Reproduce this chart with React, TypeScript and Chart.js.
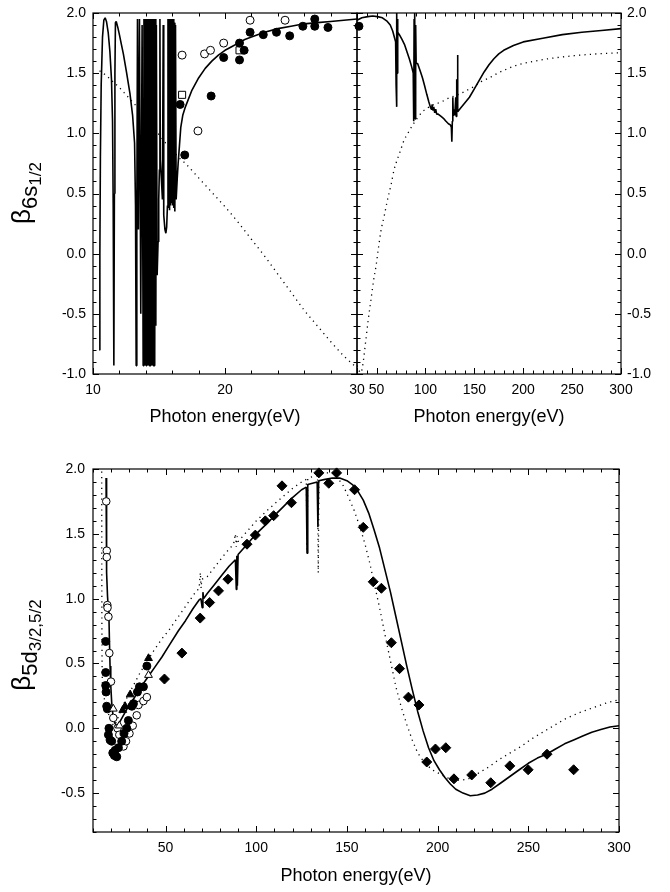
import { useEffect, useRef } from "react";
import { Chart, registerables } from "chart.js";

Chart.register(...registerables);

type P = [number, number];

// ---------- Top-left panel (10-30 eV), beta 6s1/2 ----------
const tlSolid: P[] = [
  [10.48, -0.8], [10.52, 0.0], [10.56, 0.8], [10.62, 1.4], [10.72, 1.8], [10.82, 1.94], [10.92, 1.96],
  [11.02, 1.93], [11.15, 1.84], [11.28, 1.68], [11.4, 1.45], [11.48, 1.1], [11.53, 0.4], [11.58, -0.93],
  [11.62, 0.5], [11.66, 1.5], [11.7, 1.92], [11.76, 1.93], [11.88, 1.88], [12.0, 1.82], [12.15, 1.74],
  [12.3, 1.66], [12.55, 1.5], [12.8, 1.33], [13.0, 1.15], [13.15, 0.92], [13.22, 0.4], [13.27, -0.93],
  [13.32, 0.3], [13.37, 1.95], [13.44, 0.2], [13.52, 1.95], [13.62, -0.5], [13.72, 1.9],
  [13.8, -0.93], [13.86, 1.95], [13.9, -0.93], [13.94, 1.95], [13.97, -0.93], [14.0, 1.95],
  [14.03, -0.93], [14.06, 1.95], [14.09, -0.93], [14.12, 1.95], [14.15, -0.93], [14.18, 1.95], [14.21, -0.93],
  [14.24, 1.95], [14.27, -0.93], [14.3, 1.95], [14.33, -0.93], [14.36, 1.95], [14.39, -0.93], [14.42, 1.95],
  [14.45, -0.93], [14.48, 1.95], [14.51, -0.93], [14.54, 1.95], [14.57, -0.93], [14.6, 1.95], [14.63, -0.93],
  [14.66, 1.95], [14.69, -0.9], [14.72, 1.95], [14.76, -0.6], [14.8, 1.9],
  [14.86, -0.18], [14.93, 0.1], [14.98, 0.45], [15.03, 0.7], [15.07, 1.95], [15.1, 0.78], [15.18, 0.62],
  [15.26, 0.45], [15.32, 1.9], [15.36, 0.32], [15.45, 0.2], [15.52, 0.17], [15.58, 0.22], [15.64, 0.4],
  [15.68, 1.95], [15.72, 0.38], [15.76, 1.95], [15.8, 0.36], [15.84, 1.95], [15.88, 0.4], [15.92, 1.95],
  [15.96, 0.42], [16.0, 1.95], [16.04, 0.4], [16.08, 1.95], [16.12, 0.38], [16.16, 1.92], [16.2, 0.35],
  [16.25, 1.9], [16.3, 0.45], [16.38, 0.62], [16.45, 0.75], [16.55, 0.9], [16.65, 1.05], [16.8, 1.15],
  [17.0, 1.22], [17.5, 1.36], [18.0, 1.46], [18.5, 1.54], [19.0, 1.6], [19.5, 1.65], [20.0, 1.69],
  [20.5, 1.72], [21.0, 1.75], [21.5, 1.78], [22.0, 1.8], [23.0, 1.84], [24.0, 1.87], [25.0, 1.89],
  [26.0, 1.91], [27.0, 1.92], [28.0, 1.93], [29.0, 1.94], [30.0, 1.95],
];
const tlDotted: P[] = [
  [10.5, 1.52], [11, 1.48], [11.5, 1.43], [12, 1.38], [12.5, 1.32], [13, 1.26], [13.5, 1.2], [14, 1.13],
  [14.5, 1.06], [15, 0.99], [15.5, 0.92], [16, 0.86], [16.5, 0.8], [17, 0.75], [18, 0.63], [19, 0.51],
  [20, 0.39], [21, 0.26], [22, 0.12], [23, -0.02], [24, -0.17], [25, -0.32], [26, -0.47], [27, -0.6],
  [28, -0.73], [29, -0.85], [30, -0.95],
];
const tlFilledCircles: P[] = [
  [16.6, 1.24], [16.95, 0.82], [18.95, 1.31], [19.9, 1.63], [21.1, 1.75], [21.1, 1.61], [21.45, 1.69],
  [21.9, 1.84], [22.9, 1.82], [23.9, 1.84], [24.9, 1.81], [25.9, 1.89], [26.8, 1.95], [26.8, 1.89],
  [27.8, 1.88], [30.15, 1.89],
];
const tlOpenCircles: P[] = [
  [16.75, 1.65], [17.95, 1.02], [18.45, 1.66], [18.9, 1.69], [19.9, 1.75], [21.9, 1.94], [24.55, 1.94],
];
const tlOpenSquares: P[] = [[16.75, 1.32], [21.1, 1.69]];

// ---------- Top-right panel (30-300 eV) ----------
const trSolid: P[] = [
  [30, 1.94], [35, 1.96], [41, 1.97], [46, 1.975], [51, 1.97], [56, 1.96], [61, 1.93], [64, 1.9],
  [66.5, 1.85], [68.5, 1.79], [69.5, 1.76], [70, 1.4], [70.3, 1.22], [70.6, 1.9], [70.9, 2.0], [71.2, 1.5],
  [71.5, 1.95], [71.8, 1.84], [73.3, 1.82], [76, 1.78], [78.5, 1.74], [81, 1.68], [83.5, 1.62], [86, 1.55],
  [87.5, 1.5], [88, 1.1], [88.4, 1.95], [88.8, 1.15], [89.2, 2.0], [89.6, 1.12], [90, 1.9], [90.5, 1.58],
  [92, 1.58], [95, 1.51], [97, 1.46], [99, 1.4], [101.5, 1.32], [103.5, 1.26], [105, 1.22], [106, 1.2],
  [106.7, 1.24], [107.5, 1.19], [108.5, 1.22], [109.5, 1.17], [110.5, 1.2], [111.5, 1.16], [113, 1.16],
  [116, 1.14], [119, 1.12], [121, 1.1], [123.5, 1.08], [125.5, 1.07], [126.5, 1.05], [127, 0.93],
  [127.5, 1.1], [128, 1.3], [128.5, 1.15], [129, 1.2], [130, 1.15], [131, 1.3], [131.5, 1.14], [132, 1.45],
  [132.4, 1.2], [132.8, 1.65], [133.2, 1.18], [134, 1.19], [136, 1.21], [140, 1.25], [145, 1.3],
  [150, 1.37], [155, 1.44], [160, 1.51], [165, 1.57], [170, 1.62], [175, 1.66], [180, 1.69], [190, 1.73],
  [200, 1.76], [220, 1.79], [240, 1.82], [260, 1.84], [280, 1.855], [300, 1.87],
];
const trDotted: P[] = [
  [30, -0.93], [32, -0.97], [34, -0.99], [36, -0.92], [39, -0.72], [41.5, -0.55], [44, -0.4], [47, -0.22],
  [49.5, -0.1], [52, 0.05], [54.5, 0.19], [58, 0.32], [61, 0.44], [65, 0.58], [68, 0.7], [72, 0.8],
  [75, 0.87], [78, 0.94], [82, 1.0], [87, 1.07], [92, 1.13], [97, 1.18], [102, 1.21], [109, 1.24],
  [116, 1.26], [123, 1.29], [129.5, 1.31], [136, 1.33], [143, 1.36], [150, 1.39], [157, 1.43], [165, 1.46],
  [174, 1.5], [182, 1.53], [191, 1.56], [200, 1.58], [218, 1.61], [235, 1.63], [252, 1.645], [275, 1.66],
  [300, 1.67],
];

// ---------- Bottom panel (10-300 eV), beta 5d3/2,5/2 ----------
const bSolid: P[] = [
  [17.2, 1.93], [17.3, 1.65], [17.5, 1.4], [17.7, 1.2], [18.0, 1.02], [18.4, 0.93], [18.8, 0.85],
  [19.1, 0.65], [19.4, 0.48], [19.8, 0.33], [20.3, 0.2], [21, 0.1], [22, 0.04], [23, 0.02], [24, 0.03],
  [26, 0.08], [28, 0.13], [30, 0.18], [33, 0.24], [36, 0.31], [40, 0.39], [44, 0.47], [48, 0.55],
  [52, 0.64], [57, 0.75], [61, 0.83], [65, 0.92], [68.5, 0.99], [69.5, 1.0], [70.2, 0.93], [70.6, 1.05],
  [71, 1.0], [73, 1.04], [77, 1.11], [81, 1.18], [85, 1.25], [88.5, 1.3], [89, 1.07], [89.3, 1.33],
  [89.6, 1.1], [90, 1.34], [95, 1.42], [100, 1.5], [106, 1.58], [110, 1.64], [115, 1.71], [120, 1.78],
  [125, 1.84], [127.6, 1.86], [128, 1.35], [128.4, 1.88], [131, 1.89], [133.6, 1.9], [134, 1.55],
  [134.4, 1.91], [138, 1.92], [142, 1.93], [146, 1.93], [150, 1.91], [153, 1.88], [156, 1.83], [159, 1.76],
  [162, 1.66], [165, 1.53], [168, 1.39], [171, 1.22], [174, 1.05], [177, 0.86], [180, 0.67], [183, 0.48],
  [186, 0.3], [189, 0.13], [192, -0.02], [195, -0.15], [198, -0.25], [201, -0.32], [204, -0.38],
  [207, -0.43], [210, -0.47], [214, -0.5], [218, -0.52], [222, -0.515], [226, -0.5], [230, -0.47],
  [235, -0.42], [240, -0.37], [245, -0.32], [250, -0.27], [255, -0.23], [260, -0.2], [265, -0.16],
  [270, -0.12], [275, -0.09], [280, -0.06], [285, -0.03], [290, -0.01], [295, 0.01], [300, 0.02],
];
const bDotted: P[] = [
  [14.8, 1.98], [14.85, 1.3], [14.9, 0.8], [15.0, 0.5], [15.2, 0.32], [16, 0.24], [17.5, 0.16], [19, 0.09],
  [20.5, 0.04], [21.5, 0.02], [22.5, 0.04], [24, 0.09], [27, 0.19], [30, 0.27], [33, 0.35], [36, 0.43],
  [40, 0.52], [44, 0.61], [48, 0.69], [52, 0.76], [57, 0.86], [62, 0.96], [66, 1.04], [68.5, 1.08],
  [69.2, 1.2], [69.6, 1.08], [70, 1.15], [73, 1.17], [78, 1.26], [83, 1.35], [87.5, 1.42], [88.5, 1.5],
  [89, 1.4], [89.5, 1.48], [90, 1.44], [95, 1.52], [100, 1.6], [106, 1.68], [110, 1.73], [115, 1.79],
  [120, 1.85], [125, 1.9], [127.6, 1.92], [128, 1.38], [128.4, 1.93], [131, 1.94], [133.8, 1.95],
  [134.2, 1.2], [134.6, 1.96], [138, 1.97], [142, 1.97], [145, 1.93], [148, 1.87], [151, 1.78],
  [154, 1.68], [157, 1.56], [160, 1.42], [162.5, 1.28], [165, 1.12], [168, 0.93], [171, 0.72], [174, 0.52],
  [177, 0.32], [180, 0.16], [183, 0.03], [186, -0.09], [189, -0.19], [193, -0.27], [197, -0.32],
  [201, -0.35], [205, -0.38], [209, -0.4], [213, -0.4], [217, -0.39], [222, -0.35], [228, -0.3],
  [234, -0.24], [240, -0.19], [246, -0.14], [252, -0.08], [258, -0.03], [264, 0.02], [270, 0.07],
  [278, 0.12], [286, 0.16], [294, 0.2], [300, 0.22],
];
const bDiamonds: P[] = [
  [49.4, 0.38], [59, 0.58], [69.1, 0.85], [74.3, 0.97], [79.2, 1.06], [84.4, 1.15], [94.9, 1.42],
  [99.5, 1.49], [105, 1.6], [109.6, 1.64], [114.2, 1.87], [119.4, 1.74], [134.5, 1.97], [140, 1.89],
  [144.3, 1.97], [154.2, 1.84], [159, 1.55], [164.5, 1.13], [169, 1.08], [174.5, 0.66], [179, 0.46],
  [183.9, 0.24], [189.7, 0.18], [194, -0.26], [198.8, -0.16], [204.5, -0.15], [209, -0.39], [218.8, -0.36],
  [229.3, -0.42], [239.8, -0.29], [249.9, -0.32], [260.3, -0.2], [275, -0.32],
];
const bFilledCircles: P[] = [
  [17.0, 0.67], [17.0, 0.43], [17.0, 0.33], [17.2, 0.28], [17.55, 0.17], [17.9, 0.15], [18.8, 0.0],
  [18.5, -0.05], [19.4, -0.09], [20.3, -0.1], [20.9, -0.19], [21.8, -0.21], [23.1, -0.22], [22.2, -0.17],
  [24.0, -0.15], [25.8, -0.1], [27.1, -0.04], [28.6, 0.0], [29.5, 0.06], [31.4, 0.17], [32.3, 0.19],
  [34.5, 0.28], [35.6, 0.32], [37.8, 0.32], [39.7, 0.48],
];
const bOpenCircles: P[] = [
  [17.3, 1.75], [17.6, 1.37], [17.6, 1.32], [17.9, 0.95], [18.0, 0.93], [18.5, 0.86], [19.0, 0.58],
  [19.9, 0.36], [21.2, 0.08], [23.5, 0.0], [24.5, -0.05], [26.8, -0.14], [28.2, -0.1], [30.1, -0.04],
  [31.9, 0.02], [34.1, 0.1], [35.1, 0.18], [37.8, 0.21], [39.7, 0.24],
];
const bFilledTriangles: P[] = [[26.4, 0.14], [27.7, 0.17], [30.5, 0.26], [40.6, 0.54]];
const bOpenTriangles: P[] = [[21.2, 0.15], [24.5, 0.02], [40.6, 0.41]];

// ---------- Tick labels ----------
const tlXLabels = [10, 20, 30];
const trXLabels = [50, 100, 150, 200, 250, 300];
const bXLabels = [50, 100, 150, 200, 250, 300];
const topYLabels = [-1, -0.5, 0, 0.5, 1, 1.5, 2];
const bYLabels = [-0.5, 0, 0.5, 1, 1.5, 2];
const xTitle = "Photon energy(eV)";

const FONT = "'Liberation Sans', Arial, Helvetica, sans-serif";

const pts = (a: P[]) => a.map(([x, y]) => ({ x, y }));

function lineDs(data: P[], dotted: boolean, smooth: boolean) {
  return {
    data: pts(data),
    showLine: true,
    borderColor: "#000",
    borderWidth: dotted ? 1.3 : 1.6,
    borderDash: dotted ? [1.2, 4.2] : [],
    borderJoinStyle: "bevel",
    pointRadius: 0,
    pointHoverRadius: 0,
    tension: 0,
    cubicInterpolationMode: smooth ? "monotone" : "default",
    fill: false,
  };
}

function markDs(data: P[], style: string, filled: boolean, radius: number) {
  return {
    data: pts(data),
    showLine: false,
    pointStyle: style,
    pointRadius: radius,
    pointHoverRadius: radius,
    pointBackgroundColor: filled ? "#000" : "#fff",
    pointBorderColor: "#000",
    pointBorderWidth: 1,
    clip: false,
  };
}

function frameTicks(xStep: number, xMajor: number, yStep: number, yMajor: number) {
  return {
    id: "frameTicks",
    afterDatasetsDraw(chart: any) {
      const { ctx, chartArea: a, scales } = chart;
      const xs = scales.x;
      const ys = scales.y;
      ctx.save();
      ctx.strokeStyle = "#000";
      ctx.lineWidth = 1;
      ctx.beginPath();
      const n = Math.round((xs.max - xs.min) / xStep);
      for (let i = 0; i <= n; i++) {
        const v = xs.min + i * xStep;
        const maj = Math.abs(v / xMajor - Math.round(v / xMajor)) < 1e-6;
        const len = maj ? 6 : 3.5;
        const px = Math.round(xs.getPixelForValue(v)) + 0.5;
        ctx.moveTo(px, a.bottom);
        ctx.lineTo(px, a.bottom - len);
        ctx.moveTo(px, a.top);
        ctx.lineTo(px, a.top + len);
      }
      const m = Math.round((ys.max - ys.min) / yStep);
      for (let i = 0; i <= m; i++) {
        const v = Math.round((ys.min + i * yStep) * 1000) / 1000;
        const maj = Math.abs(v / yMajor - Math.round(v / yMajor)) < 1e-6;
        const len = maj ? 6 : 3.5;
        const py = Math.round(ys.getPixelForValue(v)) + 0.5;
        ctx.moveTo(a.left, py);
        ctx.lineTo(a.left + len, py);
        ctx.moveTo(a.right, py);
        ctx.lineTo(a.right - len, py);
      }
      ctx.stroke();
      ctx.lineWidth = 1.2;
      ctx.strokeRect(a.left, a.top, a.right - a.left, a.bottom - a.top);
      ctx.restore();
    },
  };
}

function betaTitle(cx: number, cy: number, sub: string, subsub: string) {
  return {
    id: "betaTitle",
    afterDraw(chart: any) {
      const ctx = chart.ctx;
      ctx.save();
      ctx.fillStyle = "#000";
      ctx.textBaseline = "alphabetic";
      ctx.textAlign = "left";
      const f1 = `26px ${FONT}`;
      const f2 = `22px ${FONT}`;
      const f3 = `17px ${FONT}`;
      ctx.font = f1;
      const w1 = ctx.measureText("β").width;
      ctx.font = f2;
      const w2 = ctx.measureText(sub).width;
      ctx.font = f3;
      const w3 = ctx.measureText(subsub).width;
      const total = w1 + w2 + w3;
      ctx.translate(cx, cy);
      ctx.rotate(-Math.PI / 2);
      let x0 = -total / 2;
      ctx.font = f1;
      ctx.fillText("β", x0, 0);
      x0 += w1;
      ctx.font = f2;
      ctx.fillText(sub, x0, 7);
      x0 += w2;
      ctx.font = f3;
      ctx.fillText(subsub, x0, 11);
      ctx.restore();
    },
  };
}

function xScale(min: number, max: number, labels: number[], h: number) {
  return {
    type: "linear",
    position: "bottom",
    min,
    max,
    grid: { display: false, drawTicks: false },
    border: { display: false },
    afterBuildTicks: (s: any) => {
      s.ticks = labels.map((v) => ({ value: v }));
    },
    afterFit: (s: any) => {
      s.height = h;
      s.paddingLeft = 0;
      s.paddingRight = 0;
      s.paddingTop = 0;
      s.paddingBottom = 0;
    },
    ticks: {
      autoSkip: false,
      maxRotation: 0,
      minRotation: 0,
      padding: 8,
      color: "#000",
      font: { family: FONT, size: 14 },
      callback: (v: any) => String(v),
    },
    title: {
      display: true,
      text: xTitle,
      color: "#000",
      font: { family: FONT, size: 18 },
      padding: { top: 0, bottom: 0 },
    },
  };
}

function yScale(min: number, max: number, labels: number[], pos: string, w: number, pad: number) {
  return {
    type: "linear",
    position: pos,
    min,
    max,
    grid: { display: false, drawTicks: false },
    border: { display: false },
    afterBuildTicks: (s: any) => {
      s.ticks = labels.map((v) => ({ value: v }));
    },
    afterFit: (s: any) => {
      s.width = w;
      s.paddingLeft = 0;
      s.paddingRight = 0;
      s.paddingTop = 0;
      s.paddingBottom = 0;
    },
    ticks: {
      autoSkip: false,
      padding: pad,
      color: "#000",
      font: { family: FONT, size: 14 },
      callback: (v: any) => Number(v).toFixed(1),
    },
  };
}

function baseOptions(padding: any, x: any, y: any) {
  return {
    responsive: false,
    maintainAspectRatio: false,
    animation: false,
    events: [],
    layout: { padding, autoPadding: false },
    plugins: { legend: { display: false }, tooltip: { enabled: false }, title: { display: false } },
    scales: { x, y },
  };
}

function cfgTopLeft(): any {
  return {
    type: "scatter",
    data: {
      datasets: [
        markDs(tlFilledCircles, "circle", true, 4),
        markDs(tlOpenCircles, "circle", false, 4),
        markDs(tlOpenSquares, "rect", false, 5),
        lineDs(tlSolid, false, false),
        lineDs(tlDotted, true, true),
      ],
    },
    options: baseOptions(
      { left: 53, right: 313, top: 13, bottom: 892 - 374 - 54.2 },
      xScale(10, 30, tlXLabels, 54.2),
      yScale(-1, 2, topYLabels, "left", 40, 7)
    ),
    plugins: [frameTicks(2, 10, 0.1, 0.5), betaTitle(30, 193, "6s", "1/2")],
  };
}

function cfgTopRight(): any {
  return {
    type: "scatter",
    data: {
      datasets: [lineDs(trSolid, false, false), lineDs(trDotted, true, true)],
    },
    options: baseOptions(
      { left: 357, right: 0, top: 13, bottom: 892 - 374 - 54.2 },
      xScale(30, 300, trXLabels, 54.2),
      yScale(-1, 2, topYLabels, "right", 49, 6)
    ),
    plugins: [frameTicks(10, 50, 0.1, 0.5)],
  };
}

function cfgBottom(): any {
  return {
    type: "scatter",
    data: {
      datasets: [
        markDs(bDiamonds, "rectRot", true, 5),
        markDs(bFilledTriangles, "triangle", true, 4.5),
        markDs(bOpenTriangles, "triangle", false, 4.5),
        markDs(bFilledCircles, "circle", true, 4),
        markDs(bOpenCircles, "circle", false, 3.8),
        lineDs(bSolid, false, false),
        lineDs(bDotted, true, false),
      ],
    },
    options: baseOptions(
      { left: 53, right: 51, top: 469, bottom: 892 - 832 - 55.2 },
      xScale(10, 300, bXLabels, 55.2),
      yScale(-0.8, 2, bYLabels, "left", 40, 8)
    ),
    plugins: [frameTicks(10, 50, 0.1, 0.5), betaTitle(30, 645, "5d", "3/2,5/2")],
  };
}

export default function App() {
  const r1 = useRef<HTMLCanvasElement>(null);
  const r2 = useRef<HTMLCanvasElement>(null);
  const r3 = useRef<HTMLCanvasElement>(null);

  useEffect(() => {
    const charts = [
      new Chart(r1.current as HTMLCanvasElement, cfgTopLeft()),
      new Chart(r2.current as HTMLCanvasElement, cfgTopRight()),
      new Chart(r3.current as HTMLCanvasElement, cfgBottom()),
    ];
    return () => charts.forEach((c) => c.destroy());
  }, []);

  const cs: any = { position: "absolute", left: 0, top: 0, width: 670, height: 892, display: "block" };
  return (
    <div style={{ position: "absolute", left: 0, top: 0, width: 670, height: 892, background: "#fff" }}>
      <canvas ref={r1} width={670} height={892} style={cs} />
      <canvas ref={r2} width={670} height={892} style={cs} />
      <canvas ref={r3} width={670} height={892} style={cs} />
    </div>
  );
}
